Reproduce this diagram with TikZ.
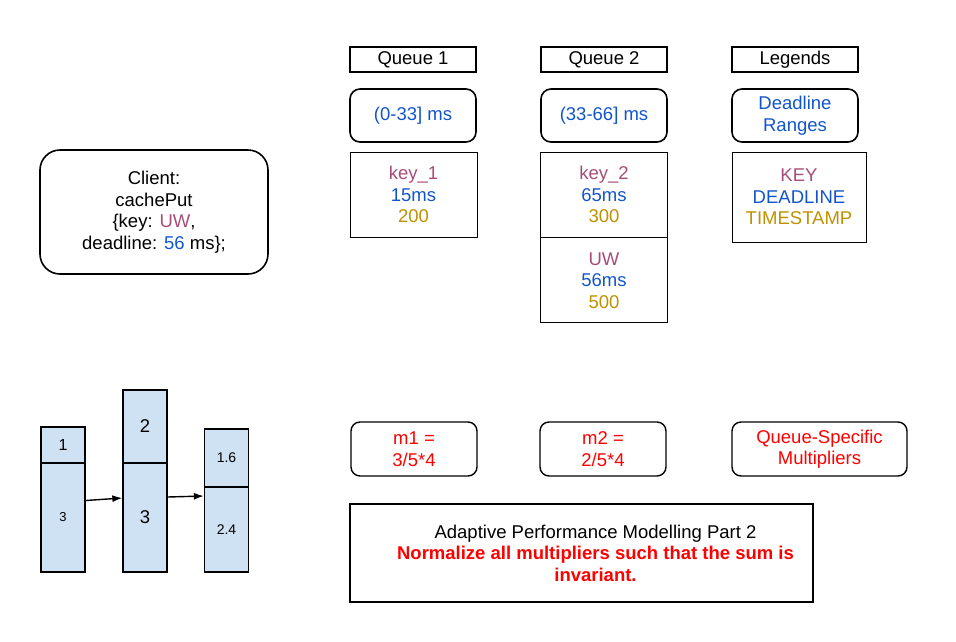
\documentclass[tikz,border=0pt]{standalone}
\usepackage{fontspec}
\setmainfont{Liberation Sans}
\usepackage{xcolor}
\usetikzlibrary{positioning,arrows.meta}

\definecolor{keycol}{HTML}{A64D79}
\definecolor{dlcol}{HTML}{1155CC}
\definecolor{tscol}{HTML}{BF9000}
\definecolor{barfill}{HTML}{CFE2F3}

\begin{document}
\begin{tikzpicture}[x=1pt, y=-1pt, >={Latex[length=10pt,width=7pt]},
every node/.style={align=center, inner sep=0pt, font=\fontsize{18.5}{21.5}\selectfont},
hdr/.style={draw, line width=1.6pt, minimum width=126pt, minimum height=25pt},
rangebox/.style={draw, line width=1.6pt, rounded corners=10pt, minimum width=126pt,
minimum height=53pt, text=dlcol},
entry/.style={draw, line width=0.9pt, minimum width=127pt, minimum height=85pt},
mult/.style={draw, line width=1.4pt, rounded corners=9pt, minimum width=126pt,
minimum height=54pt, text=red},
bar/.style={draw, line width=1.3pt, fill=barfill, minimum width=44pt}]
\useasboundingbox (0,0) rectangle (956,641);
\node[hdr] (q1) at (413,59.5) {Queue 1};
\node[hdr] (q2) at (604,59.5) {Queue 2};
\node[hdr] (leg) at (795,59.5) {Legends};
\node[rangebox] (r1) at (413,115.5) {(0-33] ms};
\node[rangebox] (r2) at (604,115.5) {(33-66] ms};
\node[rangebox] (rleg) at (795,115.5) {Deadline\\Ranges};
\node[entry] (e1) at (413.5,194.5) {\textcolor{keycol}{key\_1}\\\textcolor{dlcol}{15ms}\\\textcolor{tscol}{200}};
\node[entry] (e2) at (604,194.5) {\textcolor{keycol}{key\_2}\\\textcolor{dlcol}{65ms}\\\textcolor{tscol}{300}};
\node[entry, below=0pt of e2] (e3) {\textcolor{keycol}{UW}\\\textcolor{dlcol}{56ms}\\\textcolor{tscol}{500}};
\node[entry, minimum width=134pt, minimum height=90pt] (eleg) at (799,197)
{\textcolor{keycol}{KEY}\\\textcolor{dlcol}{DEADLINE}\\\textcolor{tscol}{TIMESTAMP}};
\node[draw, line width=1.6pt, rounded corners=20pt, minimum width=228pt,
minimum height=124pt] (client) at (154,212)
{Client:\\cachePut\\\{key: \textcolor{keycol}{UW},\\deadline: \textcolor{dlcol}{56} ms\};};
% bars
\node[bar, minimum height=36pt, font=\fontsize{16}{18}\selectfont] (b1top) at (63,445) {1};
\node[bar, minimum height=109pt, font=\fontsize{13}{15}\selectfont] (b1bot) at (63,517.5) {3};
\node[bar, minimum height=73pt] (b2top) at (145,426.5) {2};
\node[bar, minimum height=109pt] (b2bot) at (145,517.5) {3};
\node[bar, minimum height=58pt, font=\fontsize{14}{16}\selectfont] (b3top) at (226.5,458) {1.6};
\node[bar, minimum height=85pt, font=\fontsize{14}{16}\selectfont] (b3bot) at (226.5,529.5) {2.4};
\draw[->, line width=1.4pt] ([yshift=17pt]b1bot.east) -- ([yshift=19.5pt]b2bot.west);
\draw[->, line width=1.4pt] ([yshift=20.5pt]b2bot.east) -- ([yshift=33.5pt]b3bot.west);
% multipliers
\node[mult] (m1) at (414,449) {m1 =\\3/5*4};
\node[mult] (m2) at (603,449) {m2 =\\2/5*4};
\node[mult, minimum width=175pt] (mleg) at (819.5,449) {Queue-Specific\\Multipliers};
\node[draw, line width=1.4pt, minimum width=463pt, minimum height=98pt,
label={[xshift=14pt]center:{Adaptive Performance Modelling Part 2\\\textcolor{red}{\bfseries Normalize all multipliers such that the sum is}\\\textcolor{red}{\bfseries invariant.}}}] (note) at (581.5,553) {};
\end{tikzpicture}
\end{document}
